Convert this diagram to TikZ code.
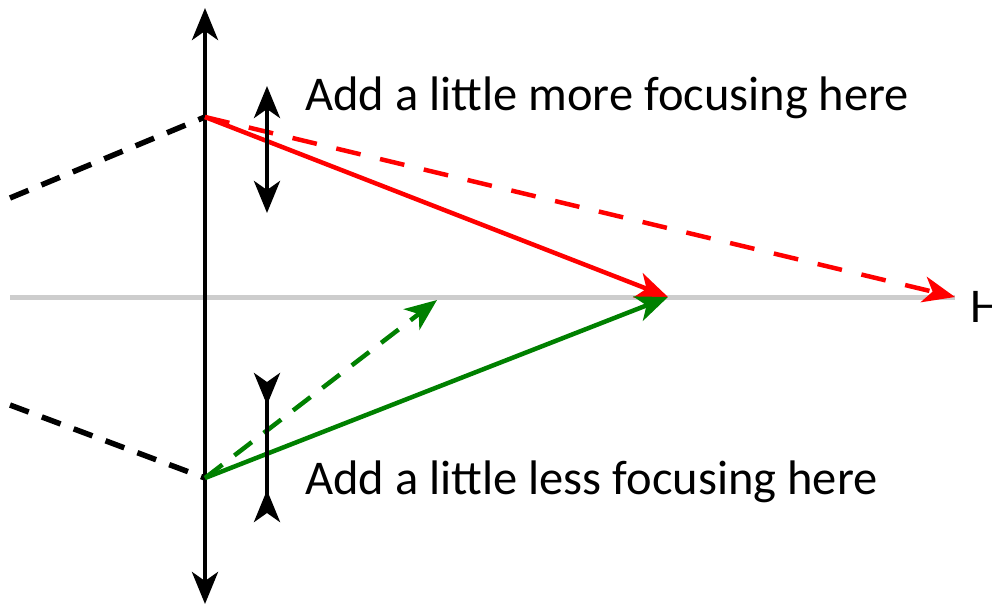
\documentclass[tikz,border=0pt]{standalone}
\usepackage{fontspec}
\setmainfont{Carlito}
\usetikzlibrary{positioning,arrows.meta}
\definecolor{rayred}{RGB}{255,0,0}
\definecolor{raygreen}{RGB}{0,128,0}
\definecolor{axisgray}{RGB}{205,205,205}

\begin{document}
\begin{tikzpicture}[x=1pt,y=-1pt,line width=4.5pt,
  tip/.style={-{Stealth[length=32pt,width=26pt,inset=9pt]}},
  lensarrow/.style={{Stealth[length=32pt,width=26pt,inset=9pt]}-{Stealth[length=32pt,width=26pt,inset=9pt]}},
  dashline/.style={dash pattern=on 20pt off 14pt}]
  \useasboundingbox (0,0) rectangle (992,606);
  % axis and lens
  \coordinate (axisL) at (10,297);
  \coordinate (axisR) at (955,297);
  \draw[axisgray,line width=5pt] (axisL) -- (axisR);
  \node[anchor=west,inner sep=0pt,font=\fontsize{48.5}{58}\selectfont] (hlabel) at (968,307) {H};
  \coordinate (lensT) at (205,8);
  \coordinate (lensB) at (205,604);
  \draw[lensarrow] (lensB) -- (lensT);
  \coordinate (top) at (205,117);
  \coordinate (bot) at (205,478);
  \coordinate (focus) at (668,297);
  % incoming rays
  \draw[dashline,line width=5.5pt] (10,198) coordinate (inT) -- (top);
  \draw[dashline,line width=5.5pt] (10,405) coordinate (inB) -- (bot);
  % red rays
  \draw[rayred,tip,dash pattern=on 25pt off 20pt] (top) -- (axisR);
  \draw[rayred,tip] (top) -- (focus);
  % green rays
  \draw[raygreen,tip,dash pattern=on 22pt off 15pt] (bot) -- (437,300) coordinate (gfar);
  \draw[raygreen,tip] (bot) -- (focus);
  % correction lenses
  \draw[lensarrow] (267,213) coordinate (convB) -- (267,86) coordinate (convT);
  \draw[{Stealth[length=32pt,width=26pt,inset=9pt,reversed]}-{Stealth[length=32pt,width=26pt,inset=9pt,reversed]}] (267,373) coordinate (concT) -- (267,522) coordinate (concB);
  \node[anchor=west,inner sep=0pt,font=\fontsize{48.5}{58}\selectfont] (more) at (303,98) {Add a little more focusing here};
  \node[anchor=west,inner sep=0pt,font=\fontsize{48.5}{58}\selectfont] (less) at (303,482) {Add a little less focusing here};
\end{tikzpicture}
\end{document}
